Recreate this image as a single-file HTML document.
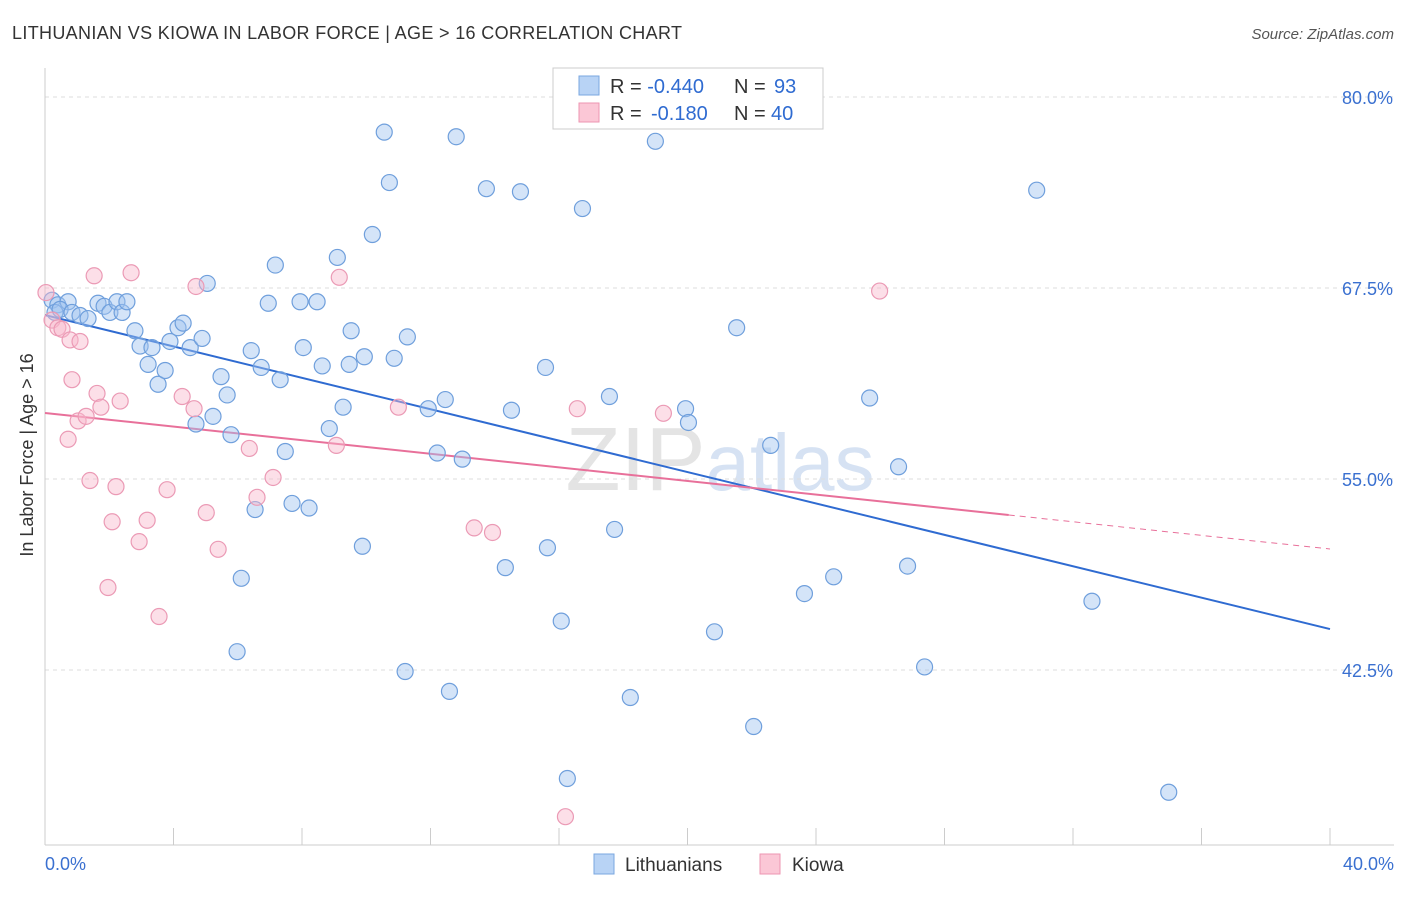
<!DOCTYPE html>
<html><head><meta charset="utf-8"><style>
body{margin:0;background:#fff;font-family:"Liberation Sans",sans-serif}
svg text{font-family:"Liberation Sans",sans-serif}
</style></head><body>
<svg id="chart" width="1406" height="892" xmlns="http://www.w3.org/2000/svg">
<text x="12" y="39" font-size="18" fill="#333" textLength="670" lengthAdjust="spacing">LITHUANIAN VS KIOWA IN LABOR FORCE | AGE &gt; 16 CORRELATION CHART</text>
<text x="1394" y="39" font-size="15" fill="#555" text-anchor="end" font-style="italic">Source: ZipAtlas.com</text>
<text x="720" y="490" font-size="90" fill="#e4e4e4" text-anchor="middle" font-family="Liberation Serif">ZIP<tspan fill="#d6e2f3" font-family="Liberation Sans" font-size="80">atlas</tspan></text>
<g id="grid"></g>
<g id="axes"></g>
<g id="lines"></g>
<g id="pts"></g>
<text transform="translate(33,455) rotate(-90)" font-size="18" fill="#333" text-anchor="middle">In Labor Force | Age &gt; 16</text>
<g>
<rect x="553" y="68" width="270" height="61" fill="#fff" stroke="#ccc"/>
<rect x="579" y="76" width="20" height="19" fill="#b8d3f5" stroke="#7aa7e0"/>
<rect x="579" y="103" width="20" height="19" fill="#fbc7d6" stroke="#ee96b2"/>
<text x="610" y="93" font-size="20" fill="#333">R = <tspan fill="#2f6bd1">-0.440</tspan><tspan x="734">N = </tspan><tspan fill="#2f6bd1" x="774">93</tspan></text>
<text x="610" y="120" font-size="20" fill="#333">R = <tspan fill="#2f6bd1" x="651">-0.180</tspan><tspan x="734">N = </tspan><tspan fill="#2f6bd1" x="771">40</tspan></text>
</g>
<g>
<rect x="594" y="854" width="20" height="20" fill="#b8d3f5" stroke="#7aa7e0"/>
<text x="625" y="871" font-size="19" fill="#333">Lithuanians</text>
<rect x="760" y="854" width="20" height="20" fill="#fbc7d6" stroke="#ee96b2"/>
<text x="792" y="871" font-size="19" fill="#333">Kiowa</text>
</g>
</svg>
<script>
const yTicks=[80,67.5,55,42.5];
const yTickLabels=["80.0%","67.5%","55.0%","42.5%"];
const xTicks=[0,4,8,12,16,20,24,28,32,36,40];
const blueX=[0.22,0.40,0.72,0.31,0.47,0.84,1.09,1.34,1.65,1.84,2.02,2.24,2.40,2.55,2.80,2.96,3.33,3.21,3.52,3.74,3.89,4.14,4.30,4.52,4.70,4.89,5.05,5.23,5.48,5.67,5.79,6.11,5.98,6.42,6.54,6.73,6.95,7.17,7.32,7.48,7.69,7.94,8.04,8.22,8.47,8.63,8.85,9.10,9.28,9.47,9.53,9.88,9.94,10.19,10.56,10.72,10.87,11.21,11.28,11.93,12.21,12.46,12.59,12.80,12.99,13.74,14.33,14.52,14.80,15.58,15.64,16.07,16.26,16.73,17.57,17.73,18.22,19.00,19.94,20.03,20.84,21.53,22.06,22.59,23.64,24.55,25.67,26.57,26.85,27.38,30.87,32.59,34.98];
const blueY=[66.7,66.4,66.6,65.9,66.1,65.9,65.7,65.5,66.5,66.3,65.9,66.6,65.9,66.6,64.7,63.7,63.6,62.5,61.2,62.1,64.0,64.9,65.2,63.6,58.6,64.2,67.8,59.1,61.7,60.5,57.9,48.5,43.7,63.4,53.0,62.3,66.5,69.0,61.5,56.8,53.4,66.6,63.6,53.1,66.6,62.4,58.3,69.5,59.7,62.5,64.7,50.6,63.0,71.0,77.7,74.4,62.9,42.4,64.3,59.6,56.7,60.2,41.1,77.4,56.3,74.0,49.2,59.5,73.8,62.3,50.5,45.7,35.4,72.7,60.4,51.7,40.7,77.1,59.6,58.7,45.0,64.9,38.8,57.2,47.5,48.6,60.3,55.8,49.3,42.7,73.9,47.0,34.5];
const pinkX=[0.03,0.22,0.40,0.53,0.72,0.84,0.78,1.09,1.03,1.28,1.40,1.53,1.62,1.74,2.09,2.21,2.34,2.68,2.93,3.18,3.55,3.80,4.27,4.64,4.70,5.02,5.39,6.36,6.60,7.10,9.07,9.16,11.00,13.36,13.93,16.20,16.57,19.25,25.98,1.96];
const pinkY=[67.2,65.4,64.9,64.8,57.6,61.5,64.1,64.0,58.8,59.1,54.9,68.3,60.6,59.7,52.2,54.5,60.1,68.5,50.9,52.3,46.0,54.3,60.4,59.6,67.6,52.8,50.4,57.0,53.8,55.1,57.2,68.2,59.7,51.8,51.5,32.9,59.6,59.3,67.3,47.9];
const blueTrend=[65.73,45.18];
const pinkTrend=[59.32,50.42];
const pinkSolidEnd=30;
const NS="http://www.w3.org/2000/svg";
const X=v=>45+v/40*1285;
const Y=v=>97+(80-v)*15.28;
function mk(tag,attrs,parent){const e=document.createElementNS(NS,tag);for(const k in attrs)e.setAttribute(k,attrs[k]);document.getElementById(parent).appendChild(e);return e;}
yTicks.forEach((t,i)=>{
 const g=mk('line',{x1:45,x2:1394,y1:Y(t),y2:Y(t),stroke:'#ddd','stroke-dasharray':'4,4'},'grid');
 
 
 const tx=mk('text',{x:1393,y:Y(t)+7,'font-size':18,fill:'#3a70d0','text-anchor':'end'},'axes');
 tx.textContent=yTickLabels[i];
 
 
});
const ax=mk('line',{x1:45,x2:45,y1:68,y2:845,stroke:'#ccc'},'axes');


const bx=mk('line',{x1:45,x2:1394,y1:845,y2:845,stroke:'#ccc'},'axes');


xTicks.forEach(t=>{
 const l=mk('line',{x1:X(t),x2:X(t),y1:828,y2:845,stroke:'#ccc'},'axes');
 
 
});
const xl=mk('text',{x:45,y:870,'font-size':18,fill:'#3a70d0'},'axes');xl.textContent='0.0%';


const xr=mk('text',{x:1394,y:870,'font-size':18,fill:'#3a70d0','text-anchor':'end'},'axes');xr.textContent='40.0%';


blueX.forEach((x,i)=>{
 const c=mk('circle',{cx:X(x),cy:Y(blueY[i]),r:8,fill:'rgba(160,196,240,0.45)',stroke:'#6f9fdc','stroke-width':1.2},'pts');
 
 
});
pinkX.forEach((x,i)=>{
 const c=mk('circle',{cx:X(x),cy:Y(pinkY[i]),r:8,fill:'rgba(248,184,205,0.45)',stroke:'#eb9ab5','stroke-width':1.2},'pts');
 
 
});
const bl=mk('line',{x1:X(0),y1:Y(blueTrend[0]),x2:X(40),y2:Y(blueTrend[1]),stroke:'#2f6bd1','stroke-width':2},'lines');


const pAt=x=>pinkTrend[0]+(pinkTrend[1]-pinkTrend[0])*x/40;
const pl=mk('line',{x1:X(0),y1:Y(pAt(0)),x2:X(pinkSolidEnd),y2:Y(pAt(pinkSolidEnd)),stroke:'#e8709a','stroke-width':2},'lines');


const pd=mk('line',{x1:X(pinkSolidEnd),y1:Y(pAt(pinkSolidEnd)),x2:X(40),y2:Y(pAt(40)),stroke:'#e8709a','stroke-width':1,'stroke-dasharray':'6,5'},'lines');


</script>
</body></html>
